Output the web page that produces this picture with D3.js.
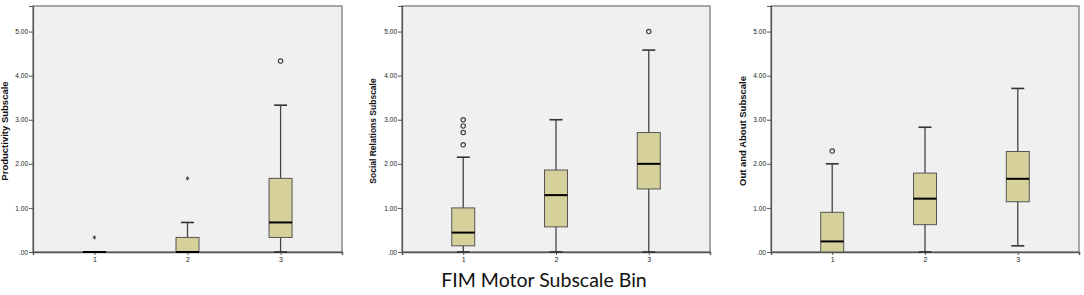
<!DOCTYPE html>
<html>
<head>
<meta charset="utf-8">
<script src="https://cdn.jsdelivr.net/npm/d3@7"></script>
<style>
  body { margin: 0; background: #fff; }
  svg { display: block; }
  .tick text { font-family: "Liberation Sans", Arial, sans-serif; fill: #222; }
</style>
</head>
<body>
<svg width="1084" height="295"></svg>
<script>
const bins = ['1', '2', '3'];
const yTicks = [0, 1, 2, 3, 4, 5];
const titles = ['Productivity Subscale', 'Social Relations Subscale', 'Out and About Subscale'];

// box stats per bin: [low whisker, q1, median, q3, high whisker]
const productivity = [[0, 0, 0, 0, 0], [0, 0, 0, 0.33, 0.67], [0, 0.33, 0.67, 1.67, 3.33]];
const social = [[0, 0.14, 0.44, 1.0, 2.15], [0, 0.57, 1.29, 1.86, 3.0], [0, 1.43, 2.0, 2.71, 4.58]];
const outAbout = [[0, 0, 0.24, 0.9, 2.0], [0, 0.62, 1.21, 1.79, 2.83], [0.14, 1.14, 1.66, 2.28, 3.71]];

// outliers: [bin, value, kind]
const productivityOut = [['1', 0.33, 'star'], ['2', 1.67, 'star'], ['3', 4.33, 'circle']];
const socialOut = [['1', 2.43, 'circle'], ['1', 2.71, 'circle'], ['1', 2.86, 'circle'], ['1', 3.0, 'circle'], ['3', 5.0, 'circle']];
const outAboutOut = [['1', 2.29, 'circle']];

const panels = [
  { left: 33, right: 342, titleX: 8, titleSize: 9.5, stats: productivity, outs: productivityOut },
  { left: 402, right: 710, titleX: 376, titleSize: 8.5, stats: social, outs: socialOut },
  { left: 771, right: 1079, titleX: 746, titleSize: 9.5, stats: outAbout, outs: outAboutOut }
];

const svg = d3.select('svg');
const plotTop = 6, plotBottom = 252;
const boxW = 23, capW = 13;

const yScale = d3.scaleLinear().domain([0, 5.58]).range([plotBottom, plotTop]);

panels.forEach((p, k) => {
  const g = svg.append('g');
  const xScale = d3.scalePoint()
    .domain(bins)
    .range([p.left, p.right])
    .padding(0.66);

  g.append('rect')
    .attr('x', p.left)
    .attr('y', plotTop)
    .attr('width', p.right - p.left)
    .attr('height', plotBottom - plotTop)
    .attr('fill', '#f0f0f0')
    .attr('stroke', '#8c8c8c')
    .attr('stroke-width', 1.5);

  const yAxis = g.append('g')
    .attr('transform', `translate(${p.left},0)`)
    .call(d3.axisLeft(yScale).tickValues(yTicks).tickSize(4).tickPadding(1)
      .tickFormat(d => d === 0 ? '.00' : d3.format('.2f')(d)));
  yAxis.select('.domain').attr('stroke', '#555').attr('stroke-width', 1.2);
  yAxis.selectAll('.tick line').attr('stroke', '#555');
  yAxis.selectAll('.tick text').attr('font-size', 6.5);

  const xAxis = g.append('g')
    .attr('transform', `translate(0,${plotBottom})`)
    .call(d3.axisBottom(xScale).tickSize(3).tickPadding(2));
  xAxis.select('.domain').attr('stroke', '#555').attr('stroke-width', 1.5);
  xAxis.selectAll('.tick line').attr('stroke', '#555');
  xAxis.selectAll('.tick text').attr('font-size', 7);

  g.append('text')
    .attr('transform', `translate(${p.titleX},${(plotTop + plotBottom) / 2 + 2}) rotate(-90)`)
    .attr('text-anchor', 'middle')
    .attr('font-family', '"Liberation Sans", Arial, sans-serif')
    .attr('font-weight', 'bold')
    .attr('font-size', p.titleSize)
    .attr('fill', '#111')
    .text(titles[k]);

  const boxes = g.selectAll('.box')
    .data(p.stats.map((s, i) => ({ bin: bins[i], s })))
    .join('g')
    .attr('transform', d => `translate(${xScale(d.bin)},0)`);

  // whiskers
  boxes.append('line')
    .attr('y1', d => yScale(d.s[0]))
    .attr('y2', d => yScale(d.s[4]))
    .attr('stroke', '#444')
    .attr('stroke-width', 1.3);
  boxes.filter(d => d.s[4] > d.s[3])
    .append('line')
    .attr('x1', -capW / 2).attr('x2', capW / 2)
    .attr('y1', d => yScale(d.s[4])).attr('y2', d => yScale(d.s[4]))
    .attr('stroke', '#333').attr('stroke-width', 1.6);
  boxes.filter(d => d.s[0] < d.s[1])
    .append('line')
    .attr('x1', -capW / 2).attr('x2', capW / 2)
    .attr('y1', d => yScale(d.s[0])).attr('y2', d => yScale(d.s[0]))
    .attr('stroke', '#333').attr('stroke-width', 1.6);

  boxes.append('rect')
    .attr('x', -boxW / 2)
    .attr('width', boxW)
    .attr('y', d => yScale(d.s[3]))
    .attr('height', d => yScale(d.s[1]) - yScale(d.s[3]))
    .attr('fill', '#d6d19b')
    .attr('stroke', '#555')
    .attr('stroke-width', 1);

  boxes.append('line')
    .attr('x1', -boxW / 2).attr('x2', boxW / 2)
    .attr('y1', d => yScale(d.s[2])).attr('y2', d => yScale(d.s[2]))
    .attr('stroke', '#000')
    .attr('stroke-width', 2);

  g.selectAll('.out')
    .data(p.outs)
    .join('path')
    .attr('transform', d => `translate(${xScale(d[0])},${yScale(d[1])})`)
    .attr('d', d => d[2] === 'star'
      ? d3.symbol(d3.symbolAsterisk, 10)()
      : d3.symbol(d3.symbolCircle, 15)())
    .attr('fill', d => d[2] === 'star' ? '#222' : 'none')
    .attr('stroke', '#444')
    .attr('stroke-width', d => d[2] === 'star' ? 1 : 1.2);
});

svg.append('text')
  .attr('x', 544)
  .attr('y', 287)
  .attr('text-anchor', 'middle')
  .attr('font-family', 'Lato, "Open Sans", sans-serif')
  .attr('font-size', 19.5)
  .attr('fill', '#111')
  .text('FIM Motor Subscale Bin');
</script>
</body>
</html>
